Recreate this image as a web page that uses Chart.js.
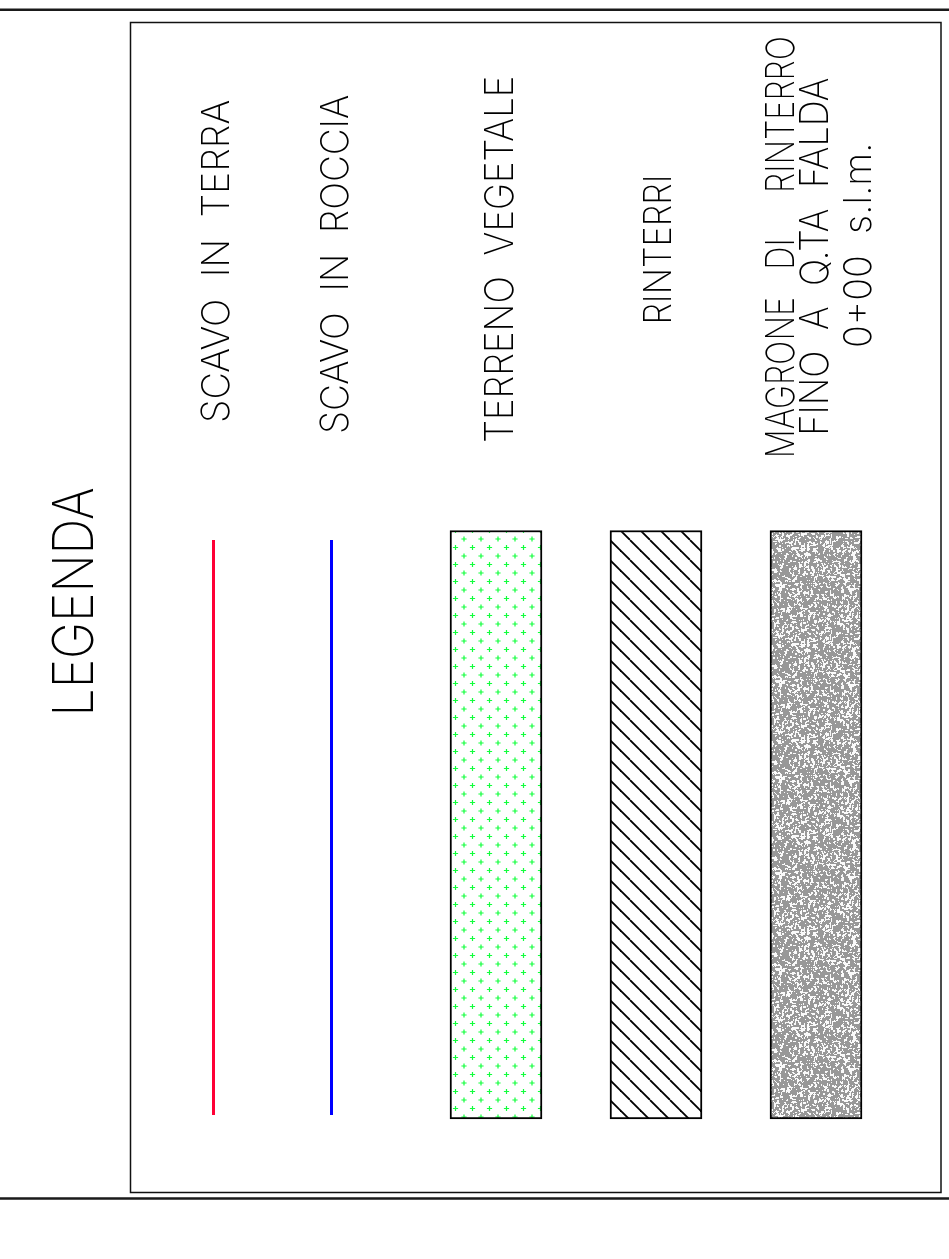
<!DOCTYPE html>
<html>
<head>
<meta charset="utf-8">
<title>Legenda</title>
<script src="https://cdn.jsdelivr.net/npm/chart.js@4.4.1/dist/chart.umd.min.js"></script>
<style>
  html, body { margin: 0; padding: 0; background: #fff; }
  #legendChart { display: block; }
</style>
</head>
<body>
<canvas id="legendChart" width="949" height="1259"></canvas>
<script>
// --- legend sheet, drawn in sheet units (1 unit = 1 px of the 949x1259 sheet) ---

const title = 'LEGENDA';
const categories = ['SCAVO IN TERRA', 'SCAVO IN ROCCIA', 'TERRENO VEGETALE', 'RINTERRI', 'MAGRONE DI RINTERRO'];
const descLines = [
    ['SCAVO  IN  TERRA'],
    ['SCAVO  IN  ROCCIA'],
    ['TERRENO  VEGETALE'],
    ['RINTERRI'],
    ['MAGRONE   DI     RINTERRO', 'FINO  A  Q.TA  FALDA', '0+00  s.l.m.']
];
// symbol column position and span along the sheet
const symbolPos = [213.5, 331.5, 496, 656, 816];
const symbolFrom = [540, 540, 530.5, 530.5, 530.5];
const symbolTo = [1115, 1115, 1119, 1119, 1119];

const SHEET_W = 949;
const SHEET_H = 1259;

// text placement: [baseline x, start y (bottom), end y (top), cap height]
const textLayout = [
    [[229, 421, 100, 28]],
    [[348, 432, 95, 28]],
    [[512.5, 441, 78, 29]],
    [[671, 321, 178, 28]],
    [[793.5, 455, 38, 28.5], [828, 432, 78, 28.5], [871, 346, 146, 28]]
];
const titleLayout = [93, 712, 488, 41];
const FONT = '200 {s}px Inter, Roboto, "DejaVu Sans", sans-serif';

// --- patterns ---
function makeTile(w, h, draw) {
    const c = document.createElement('canvas');
    c.width = w; c.height = h;
    const g = c.getContext('2d');
    g.fillStyle = '#ffffff';
    g.fillRect(0, 0, w, h);
    draw(g, w, h);
    return c;
}

const ctx = document.getElementById('legendChart');
const ctx2d = ctx.getContext('2d');

const plusTile = makeTile(17, 17, (g) => {
    g.strokeStyle = '#12ff3c';
    g.lineWidth = 1.2;
    const pts = [[5, 12], [13.5, 3.5], [13.5 - 17, 3.5], [5, 12 - 17], [13.5, 3.5 + 17], [5 + 17, 12]];
    pts.forEach(([px, py]) => {
        g.beginPath();
        g.moveTo(px - 2.6, py); g.lineTo(px + 2.6, py);
        g.moveTo(px, py - 2.6); g.lineTo(px, py + 2.6);
        g.stroke();
    });
});

const hatchTile = makeTile(20, 20, (g) => {
    g.strokeStyle = '#000000';
    g.lineWidth = 1.8;
    for (let k = -2; k <= 2; k++) {
        g.beginPath();
        g.moveTo(10 + 20 * k, 0);
        g.lineTo(30 + 20 * k, 20);
        g.stroke();
    }
});

// concrete texture: seeded noise so it stays the same on every run
const grainTile = makeTile(96, 96, (g, w, h) => {
    let seed = 12345;
    const rnd = () => { seed = (seed * 1103515245 + 12345) & 0x7fffffff; return seed / 0x7fffffff; };
    const raw = new Float32Array(w * h);
    for (let i = 0; i < raw.length; i++) raw[i] = rnd();
    const img = g.getImageData(0, 0, w, h);
    const at = (x, y) => raw[((y + h) % h) * w + ((x + w) % w)];
    for (let y = 0; y < h; y++) {
        for (let x = 0; x < w; x++) {
            const s = (at(x, y) * 2 + at(x + 1, y) + at(x, y + 1) + at(x - 1, y) + at(x, y - 1)) / 6;
            const v = s > 0.43 ? 152 : 250;
            const i = (y * w + x) * 4;
            img.data[i] = v; img.data[i + 1] = v; img.data[i + 2] = v; img.data[i + 3] = 255;
        }
    }
    g.putImageData(img, 0, 0);
});

const patterns = [
    ctx2d.createPattern(plusTile, 'repeat'),
    ctx2d.createPattern(hatchTile, 'repeat'),
    ctx2d.createPattern(grainTile, 'repeat')
];

// --- sheet frame and texts ---
const sheetPlugin = {
    id: 'sheet',
    beforeDatasetsDraw(chart) {
        const c = chart.ctx;
        const sx = chart.scales.x, sy = chart.scales.y;
        const X = (v) => sx.getPixelForValue(v);
        const Y = (v) => sy.getPixelForValue(v);
        c.save();
        c.strokeStyle = '#1a1a1a';
        c.lineWidth = 2.4;
        c.beginPath();
        c.moveTo(X(0), Y(9.8)); c.lineTo(X(SHEET_W), Y(9.8));
        c.moveTo(X(0), Y(1198.5)); c.lineTo(X(SHEET_W), Y(1198.5));
        c.stroke();
        c.lineWidth = 1.5;
        c.strokeStyle = '#111';
        c.strokeRect(X(130.5), Y(22.5), X(941) - X(130.5), Y(1192.5) - Y(22.5));
        c.restore();
    },
    afterDatasetsDraw(chart) {
        const c = chart.ctx;
        const sx = chart.scales.x, sy = chart.scales.y;
        const drawText = (text, [bx, y0, y1, cap]) => {
            // size the font from the real cap height of the font that is used
            c.font = FONT.replace('{s}', 100);
            const capRatio = c.measureText('H').actualBoundingBoxAscent / 100;
            c.font = FONT.replace('{s}', (cap / capRatio).toFixed(2));
            const m = c.measureText(text);
            const w = m.actualBoundingBoxLeft + m.actualBoundingBoxRight;
            const px = sx.getPixelForValue(bx);
            const p0 = sy.getPixelForValue(y0);
            const p1 = sy.getPixelForValue(y1);
            const k = (p0 - p1) / w;
            c.save();
            c.translate(px, p0);
            c.rotate(-Math.PI / 2);
            c.scale(k, 1);
            c.fillStyle = '#000';
            c.textBaseline = 'alphabetic';
            c.fillText(text, m.actualBoundingBoxLeft, 0);
            c.restore();
        };
        drawText(title, titleLayout);
        descLines.forEach((lines, i) => {
            lines.forEach((t, j) => drawText(t, textLayout[i][j]));
        });
    }
};

// line symbols (first two categories), box symbols (others)
const lineColors = ['#ff0035', '#0000ff'];
const lineSets = [0, 1].map((i) => ({
    type: 'line',
    label: categories[i],
    data: [{ x: symbolPos[i], y: symbolFrom[i] }, { x: symbolPos[i], y: symbolTo[i] }],
    borderColor: lineColors[i],
    borderWidth: 3,
    pointRadius: 0,
    fill: false
}));

const boxSet = {
    type: 'bar',
    label: 'campiture',
    data: [2, 3, 4].map((i) => ({ x: symbolPos[i], y: [symbolFrom[i], symbolTo[i]] })),
    backgroundColor: patterns,
    borderColor: '#000000',
    borderWidth: 2,
    borderSkipped: false,
    barThickness: 92,
    grouped: false
};

new Chart(ctx, {
    type: 'bar',
    data: { datasets: [...lineSets, boxSet] },
    options: {
        responsive: false,
        animation: false,
        devicePixelRatio: 1,
        layout: { padding: 0 },
        scales: {
            x: { type: 'linear', min: 0, max: SHEET_W, offset: false, display: false },
            y: { type: 'linear', min: 0, max: SHEET_H, reverse: true, display: false, beginAtZero: false }
        },
        plugins: {
            legend: { display: false },
            tooltip: { enabled: false }
        }
    },
    plugins: [sheetPlugin]
});
</script>
</body>
</html>
